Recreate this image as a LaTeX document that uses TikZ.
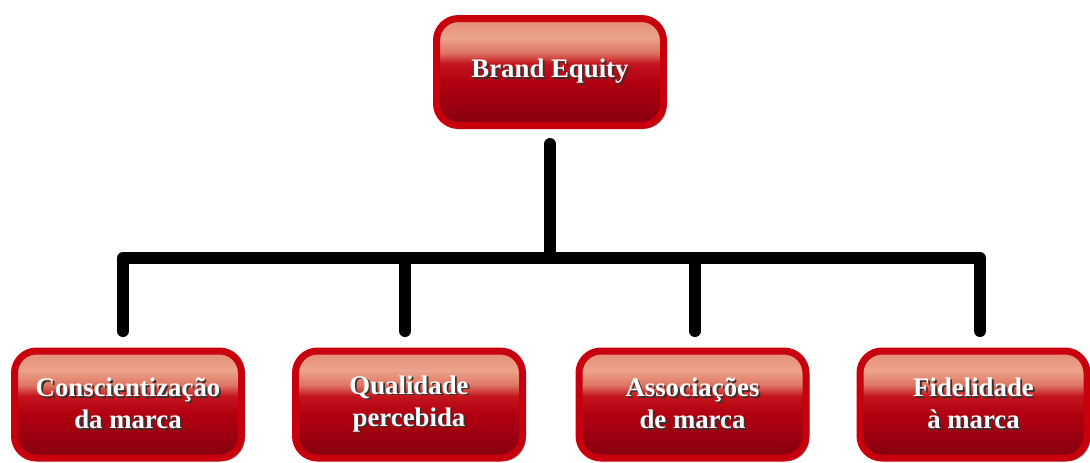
\documentclass[tikz,border=0pt]{standalone}
\usepackage{fontspec}
\setmainfont{Liberation Serif}
\usetikzlibrary{shadows}
\definecolor{RimRed}{RGB}{ 200, 0, 14 }
\definecolor{DRed}{RGB}{ 132, 0, 14 }
\definecolor{MRed}{RGB}{ 176, 0, 16 }
\definecolor{HRed}{RGB}{ 196, 20, 28 }
\definecolor{Salmon}{RGB}{ 236, 164, 138 }
\definecolor{LSalmon}{RGB}{ 228, 140, 116 }
\pgfdeclareverticalshading{glossy}{100bp}{color(0bp)=(DRed); color(25bp)=(DRed);
  color(45bp)=(MRed); color(54bp)=(HRed); color(59bp)=(LSalmon!80!HRed);
  color(66bp)=(Salmon); color(75bp)=(LSalmon); color(100bp)=(LSalmon)}
\NewDocumentCommand{\ShadowText}{m}{%
  \leavevmode\rlap{\hspace{0.9pt}\raisebox{-0.9pt}{\textcolor{black!80}{#1}}}%
  \textcolor{white}{#1}%
}
\tikzset{
  box/.style={draw=RimRed, line width=3.5pt, rounded corners=11pt,
    shading=glossy, minimum width=113.5pt, minimum height=53.5pt,
    align=center, font=\bfseries\fontsize{13.4}{16}\selectfont,
    drop shadow={shadow xshift=1.6pt, shadow yshift=-1.6pt,
      fill=black!70, opacity=0.55}},
  bar/.style={line width=6pt, line cap=round, line join=round, black}
}

\begin{document}
\begin{tikzpicture}[x=0.5pt, y=-0.5pt]
\useasboundingbox (0,0) rectangle (1090,462);

\node[box] (equity) at (550,72) {\ShadowText{Brand Equity}};

\node[box] (awareness) at (128,404.5) {\ShadowText{Conscientização}\\\ShadowText{da marca}};
\node[box] (quality) at (409,404.5) {\ShadowText{Qualidade}\\\ShadowText{percebida}};
\node[box] (assoc) at (692.5,404.5) {\ShadowText{Associações}\\\ShadowText{de marca}};
\node[box] (loyalty) at (973.5,404.5) {\ShadowText{Fidelidade}\\\ShadowText{à marca}};

% branch points on the bar
\coordinate (hub) at (550,258);
\coordinate (drop-1) at (123,258);
\coordinate (drop-2) at (405,258);
\coordinate (drop-3) at (695,258);
\coordinate (drop-4) at (980,258);

\draw[bar, shorten <=7.5pt] (equity.south) -- (hub);
\draw[bar, shorten <=8.25pt, shorten >=8.25pt]
  (drop-1 |- awareness.north) -- (drop-1) -- (drop-4) -- (drop-4 |- loyalty.north);
\draw[bar, shorten >=8.25pt] (drop-2) -- (drop-2 |- quality.north);
\draw[bar, shorten >=8.25pt] (drop-3) -- (drop-3 |- assoc.north);
\end{tikzpicture}
\end{document}
